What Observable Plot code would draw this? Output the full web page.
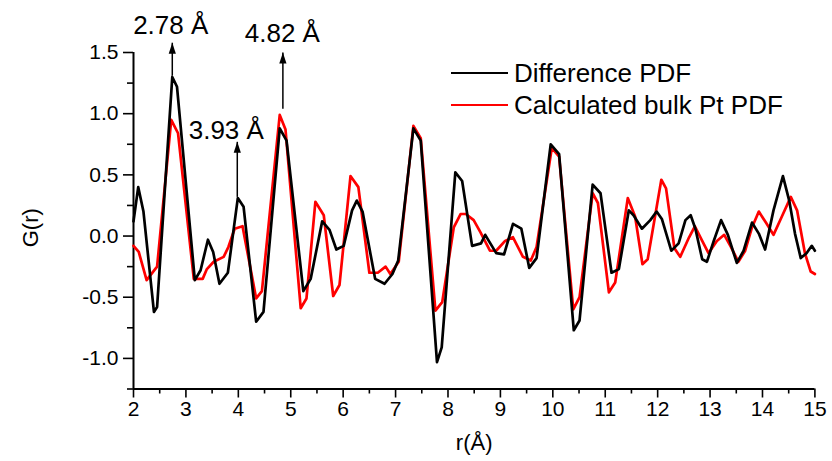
<!DOCTYPE html>
<html>
<head>
<meta charset="utf-8">
<script src="https://cdn.jsdelivr.net/npm/d3@7"></script>
<script src="https://cdn.jsdelivr.net/npm/@observablehq/plot@0.6"></script>
<style>
  html, body { margin: 0; padding: 0; background: #fff; }
  #wrap { position: relative; width: 832px; height: 461px; font-family: Arial, "Liberation Sans", sans-serif; }
  #legend { position: absolute; left: 451px; top: 57px; }
  .row { display: flex; align-items: center; height: 32px; }
  .sw { width: 57px; height: 0; border-top: 2.6px solid; margin-right: 6px; }
  .lab { font-size: 26px; line-height: 32px; color: #000; white-space: nowrap; }
</style>
</head>
<body>
<div id="wrap"></div>
<script>
// ---- data ----
const seriesNames = ["Difference PDF", "Calculated bulk Pt PDF"];
const seriesColors = ["#000000", "#ff0000"];

const blackR = [2.00, 2.09, 2.19, 2.39, 2.45, 2.74, 2.83, 3.17, 3.28, 3.42, 3.52, 3.64, 3.80, 3.99, 4.10, 4.34, 4.48, 4.79, 4.92, 5.24, 5.38, 5.60, 5.74, 5.87, 6.01, 6.17, 6.26, 6.37, 6.61, 6.79, 6.94, 7.05, 7.34, 7.48, 7.79, 7.88, 8.14, 8.27, 8.46, 8.63, 8.71, 8.92, 9.07, 9.24, 9.40, 9.55, 9.69, 9.96, 10.12, 10.40, 10.51, 10.76, 10.91, 11.12, 11.26, 11.45, 11.54, 11.70, 11.86, 11.98, 12.08, 12.26, 12.40, 12.53, 12.63, 12.72, 12.85, 12.94, 13.07, 13.21, 13.34, 13.51, 13.64, 13.80, 13.93, 14.05, 14.21, 14.39, 14.51, 14.62, 14.73, 14.84, 14.94, 15.00];
const blackG = [0.12, 0.40, 0.20, -0.62, -0.58, 1.30, 1.22, -0.36, -0.28, -0.03, -0.13, -0.39, -0.30, 0.31, 0.24, -0.70, -0.62, 0.88, 0.78, -0.45, -0.35, 0.12, 0.05, -0.11, -0.08, 0.21, 0.29, 0.20, -0.35, -0.39, -0.31, -0.20, 0.88, 0.78, -1.03, -0.91, 0.52, 0.45, -0.08, -0.06, 0.01, -0.14, -0.15, 0.10, 0.06, -0.26, -0.18, 0.75, 0.67, -0.77, -0.69, 0.42, 0.35, -0.30, -0.27, 0.21, 0.17, 0.06, 0.13, 0.20, 0.14, -0.12, -0.06, 0.13, 0.17, 0.06, -0.19, -0.21, -0.04, 0.13, 0.01, -0.22, -0.12, 0.11, 0.02, -0.11, 0.21, 0.49, 0.29, 0.02, -0.18, -0.14, -0.08, -0.12];

const redR = [2.00, 2.10, 2.25, 2.45, 2.72, 2.85, 3.15, 3.32, 3.40, 3.53, 3.72, 3.81, 3.93, 4.08, 4.34, 4.45, 4.79, 4.90, 5.19, 5.30, 5.47, 5.63, 5.81, 5.93, 6.14, 6.29, 6.50, 6.66, 6.81, 6.90, 7.06, 7.34, 7.48, 7.76, 7.89, 8.11, 8.24, 8.34, 8.49, 8.62, 8.80, 8.92, 9.09, 9.24, 9.43, 9.58, 9.69, 9.98, 10.12, 10.39, 10.51, 10.76, 10.86, 11.07, 11.19, 11.43, 11.57, 11.71, 11.81, 12.07, 12.16, 12.32, 12.43, 12.60, 12.71, 12.85, 12.97, 13.13, 13.27, 13.40, 13.54, 13.67, 13.80, 13.93, 14.08, 14.21, 14.37, 14.54, 14.66, 14.81, 14.92, 15.00];
const redG = [-0.08, -0.13, -0.36, -0.25, 0.95, 0.84, -0.35, -0.35, -0.27, -0.21, -0.17, -0.09, 0.06, 0.08, -0.51, -0.45, 0.99, 0.87, -0.59, -0.51, 0.28, 0.17, -0.49, -0.40, 0.49, 0.40, -0.30, -0.30, -0.25, -0.31, -0.21, 0.90, 0.80, -0.61, -0.54, 0.07, 0.18, 0.18, 0.13, 0.03, -0.12, -0.12, -0.04, -0.01, -0.17, -0.20, -0.09, 0.72, 0.65, -0.60, -0.50, 0.35, 0.27, -0.46, -0.38, 0.31, 0.16, -0.23, -0.19, 0.46, 0.39, -0.10, -0.17, -0.01, 0.08, -0.04, -0.14, -0.04, 0.01, -0.09, -0.21, -0.12, 0.07, 0.20, 0.10, 0.01, 0.16, 0.32, 0.21, -0.14, -0.29, -0.31];

// peak annotations
const peakLabels = ["2.78 Å", "3.93 Å", "4.82 Å"];
const peakArrowR = [2.74, 3.98, 4.85];
const peakArrowBase = [1.31, 0.32, 1.04];
const peakArrowTip = [1.58, 0.77, 1.50];
const peakLabelR = [2.71, 3.77, 4.84];
const peakLabelG = [1.72, 0.86, 1.65];

// axes
const xMajor = [2, 3, 4, 5, 6, 7, 8, 9, 10, 11, 12, 13, 14, 15];
const xMinor = [2.5, 3.5, 4.5, 5.5, 6.5, 7.5, 8.5, 9.5, 10.5, 11.5, 12.5, 13.5, 14.5];
const yMajor = [-1.0, -0.5, 0.0, 0.5, 1.0, 1.5];
const yMinor = [-1.25, -0.75, -0.25, 0.25, 0.75, 1.25];
const xLabel = "r(Å)";
const yLabel = "G(r)";
const xDomain = [2, 15];
const yDomain = [-1.25, 1.5];

// ---- build ----
const blackData = blackR.map((r, i) => ({r, g: blackG[i]}));
const redData = redR.map((r, i) => ({r, g: redG[i]}));
const annots = peakLabels.map((label, i) => ({
  label, r: peakArrowR[i], base: peakArrowBase[i], tip: peakArrowTip[i],
  lr: peakLabelR[i], lg: peakLabelG[i]
}));

const arrowHead = {
  draw(context) {
    context.moveTo(0, 0);
    context.lineTo(3.6, 11);
    context.lineTo(-3.6, 11);
    context.closePath();
  }
};

const chart = Plot.plot({
  width: 832,
  height: 461,
  marginLeft: 133,
  marginRight: 17.6,
  marginTop: 52,
  marginBottom: 72.5,
  x: {domain: xDomain},
  y: {domain: yDomain},
  style: {fontFamily: "Arial, 'Liberation Sans', sans-serif", fontSize: "21px", color: "#000", background: "#fff", overflow: "visible"},
  marks: [
    Plot.axisX({ticks: xMinor, tickSize: 5, strokeWidth: 1.6, tickFormat: () => "", label: null}),
    Plot.axisX({ticks: xMajor, tickSize: 9, tickPadding: 3, strokeWidth: 1.6, fontSize: 21, tickFormat: d => String(d), label: null}),
    Plot.axisY({ticks: yMinor, tickSize: 6, strokeWidth: 1.6, tickFormat: () => "", label: null}),
    Plot.axisY({ticks: yMajor, tickSize: 10, tickPadding: 5, strokeWidth: 1.6, fontSize: 21, tickFormat: d => d.toFixed(1).replace("\u2212", "-"), label: null}),
    Plot.ruleX([xDomain[0]], {stroke: "#000", strokeWidth: 2}),
    Plot.ruleY([yDomain[0]], {stroke: "#000", strokeWidth: 2}),
    Plot.line(redData, {x: "r", y: "g", stroke: seriesColors[1], strokeWidth: 2.7}),
    Plot.line(blackData, {x: "r", y: "g", stroke: seriesColors[0], strokeWidth: 2.7}),
    Plot.link(annots, {x1: "r", x2: "r", y1: "base", y2: "tip", stroke: "#000", strokeWidth: 1.5}),
    Plot.dot(annots, {x: "r", y: "tip", symbol: arrowHead, r: 4, fill: "#000", stroke: "none"}),
    Plot.text(annots, {x: "lr", y: "lg", text: "label", fontSize: 26, lineAnchor: "middle", textAnchor: "middle", fill: "#000"}),
    Plot.text([xLabel], {frameAnchor: "bottom", dy: 54, fontSize: 22, lineAnchor: "middle", textAnchor: "middle", fill: "#000"}),
    Plot.text([yLabel], {frameAnchor: "left", dx: -103, dy: 7, rotate: -90, fontSize: 22, lineAnchor: "middle", textAnchor: "middle", fill: "#000"})
  ]
});

const wrap = document.getElementById("wrap");
wrap.appendChild(chart);

const legend = document.createElement("div");
legend.id = "legend";
seriesNames.forEach((name, i) => {
  const row = document.createElement("div");
  row.className = "row";
  const sw = document.createElement("span");
  sw.className = "sw";
  sw.style.borderTopColor = seriesColors[i];
  const lab = document.createElement("span");
  lab.className = "lab";
  lab.textContent = name;
  row.appendChild(sw);
  row.appendChild(lab);
  legend.appendChild(row);
});
wrap.appendChild(legend);
</script>
</body>
</html>
